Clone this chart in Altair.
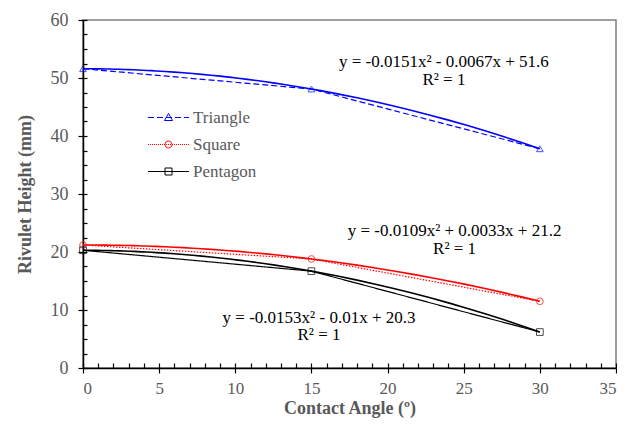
import altair as alt
import pandas as pd

# ---------------- data ----------------
series_names = ["Triangle", "Square", "Pentagon"]
angles = [0, 15, 30]
triangle = [51.6, 48.1, 37.8]
square = [21.2, 18.8, 11.5]
pentagon = [20.3, 16.7, 6.2]

eq_text = ["y = -0.0151x² - 0.0067x + 51.6", "R² = 1",
           "y = -0.0109x² + 0.0033x + 21.2", "R² = 1",
           "y = -0.0153x² - 0.01x + 20.3", "R² = 1"]
eq_x = [23.7, 23.7, 24.4, 24.4, 15.5, 15.5]
eq_y = [52.8, 49.7, 23.6, 20.5, 8.7, 5.7]

x_major = list(range(0, 36, 5))
x_minor = list(range(0, 36))
y_major = list(range(0, 61, 10))
y_minor = [i * 2.5 for i in range(25)]

colors = ["#0000FF", "#FF0000", "#000000"]
dashes = [[6, 3], [1.5, 1.5], [1, 0]]
shapes = ["triangle-up", "circle", "square"]

rows = []
for name, vals in zip(series_names, [triangle, square, pentagon]):
    for a, v in zip(angles, vals):
        rows.append({"series": name, "angle": a, "height": v})
df = pd.DataFrame(rows)
txt = pd.DataFrame({"label": eq_text, "angle": eq_x, "height": eq_y})

# ---------------- legend symbols (line + marker) ----------------
U = 7.0  # px per symbol unit (symbol size 196)


def dash_path(pattern, half=20.5):
    on, off = pattern
    parts = []
    x = -half
    while x < half:
        x1 = min(x + on, half)
        parts.append(f"M{x / U:.3f},0H{x1 / U:.3f}")
        x = x1 + off
    return "".join(parts)


tri = f"M0,{-4 / U:.3f}L{4 / U:.3f},{3 / U:.3f}L{-4 / U:.3f},{3 / U:.3f}Z"
r = 3.5 / U
circ = f"M{r:.3f},0A{r:.3f},{r:.3f} 0 1,1 {-r:.3f},0A{r:.3f},{r:.3f} 0 1,1 {r:.3f},0Z"
sq = f"M{-r:.3f},{-r:.3f}H{r:.3f}V{r:.3f}H{-r:.3f}Z"
legend_paths = [dash_path([6, 3]) + tri, dash_path([1, 1]) + circ,
                f"M{-20.5 / U:.3f},0H{20.5 / U:.3f}" + sq]

FONT = "'Liberation Serif', 'Times New Roman', Times, serif"
xs = alt.Scale(domain=[0, 35], nice=False, zero=False)
ys = alt.Scale(domain=[0, 60], nice=False, zero=False)
cscale = alt.Scale(domain=series_names, range=colors)

base = alt.Chart(df)

trend = base.transform_regression(
    "angle", "height", method="poly", order=2, groupby=["series"], extent=[0, 30]
).mark_line(strokeWidth=1.6).encode(
    x=alt.X("angle:Q", scale=xs, title="Contact Angle (º)",
            axis=alt.Axis(orient="bottom", values=x_major, tickSize=5, tickWidth=1.2,
                          domainWidth=1.5, labelPadding=7, titlePadding=3, format="d",
                          labelFontSize=17)),
    y=alt.Y("height:Q", scale=ys, title="Rivulet Height (mm)",
            axis=alt.Axis(orient="left", values=y_major, tickSize=5, tickWidth=1.2,
                          domainWidth=1.5, labelPadding=10, titlePadding=16, format="d",
                          labelFontSize=18)),
    color=alt.Color("series:N", scale=cscale, legend=None),
    detail="series:N",
)

lines = base.mark_line(strokeWidth=1.2).encode(
    x=alt.X("angle:Q", scale=xs, axis=None),
    y=alt.Y("height:Q", scale=ys, axis=None),
    color=alt.Color("series:N", scale=cscale, legend=None),
    strokeDash=alt.StrokeDash("series:N", scale=alt.Scale(domain=series_names, range=dashes), legend=None),
)

points = base.mark_point(filled=False, size=45, strokeWidth=1).encode(
    x=alt.X("angle:Q", scale=xs, axis=None),
    y=alt.Y("height:Q", scale=ys, axis=None),
    color=alt.Color("series:N", scale=cscale, legend=None),
    shape=alt.Shape("series:N", scale=alt.Scale(domain=series_names, range=shapes), legend=None),
)

texts = alt.Chart(txt).mark_text(font=FONT, fontSize=17, color="black",
                                 align="center", baseline="middle").encode(
    x=alt.X("angle:Q", scale=xs, axis=None),
    y=alt.Y("height:Q", scale=ys, axis=None),
    text="label:N",
)

leg = alt.Legend(orient="none", legendX=63, legendY=89, title=None, padding=0,
                 symbolOpacity=1, symbolSize=196, symbolStrokeWidth=1,
                 symbolOffset=14, labelOffset=16, rowPadding=9,
                 labelFont=FONT, labelFontSize=17, labelColor="#595959")

legend_layer = base.mark_point(filled=False, opacity=0, size=45).encode(
    x=alt.X("angle:Q", scale=xs, title=None,
            axis=alt.Axis(orient="bottom", values=x_minor, tickSize=5, tickWidth=1.2,
                          offset=-5, labels=False, domain=False)),
    y=alt.Y("height:Q", scale=ys, title=None,
            axis=alt.Axis(orient="left", values=y_minor, tickSize=4, tickWidth=1.2,
                          offset=-4, labels=False, domain=False)),
    color=alt.Color("series:N", scale=cscale, legend=leg),
    shape=alt.Shape("series:N", scale=alt.Scale(domain=series_names, range=legend_paths), legend=leg),
)

chart = alt.layer(trend, lines, points, texts, legend_layer).resolve_scale(
    color="independent", shape="independent", strokeDash="independent"
).resolve_legend(
    color="independent", shape="independent", strokeDash="independent"
).resolve_axis(
    x="independent", y="independent"
).properties(
    width=533, height=348,
    autosize=alt.AutoSizeParams(type="none"),
    padding={"left": 75, "top": 12, "right": 1, "bottom": 56},
).configure_view(
    stroke="#7f7f7f", strokeWidth=1.5
).configure_axis(
    grid=False, labelFont=FONT, labelFontSize=16, labelColor="#595959",
    titleFont=FONT, titleFontSize=18, titleColor="#595959", titleFontWeight="bold",
    domainColor="black", tickColor="black",
)

chart.save("out.html", embed_options={"renderer": "svg", "actions": False})
